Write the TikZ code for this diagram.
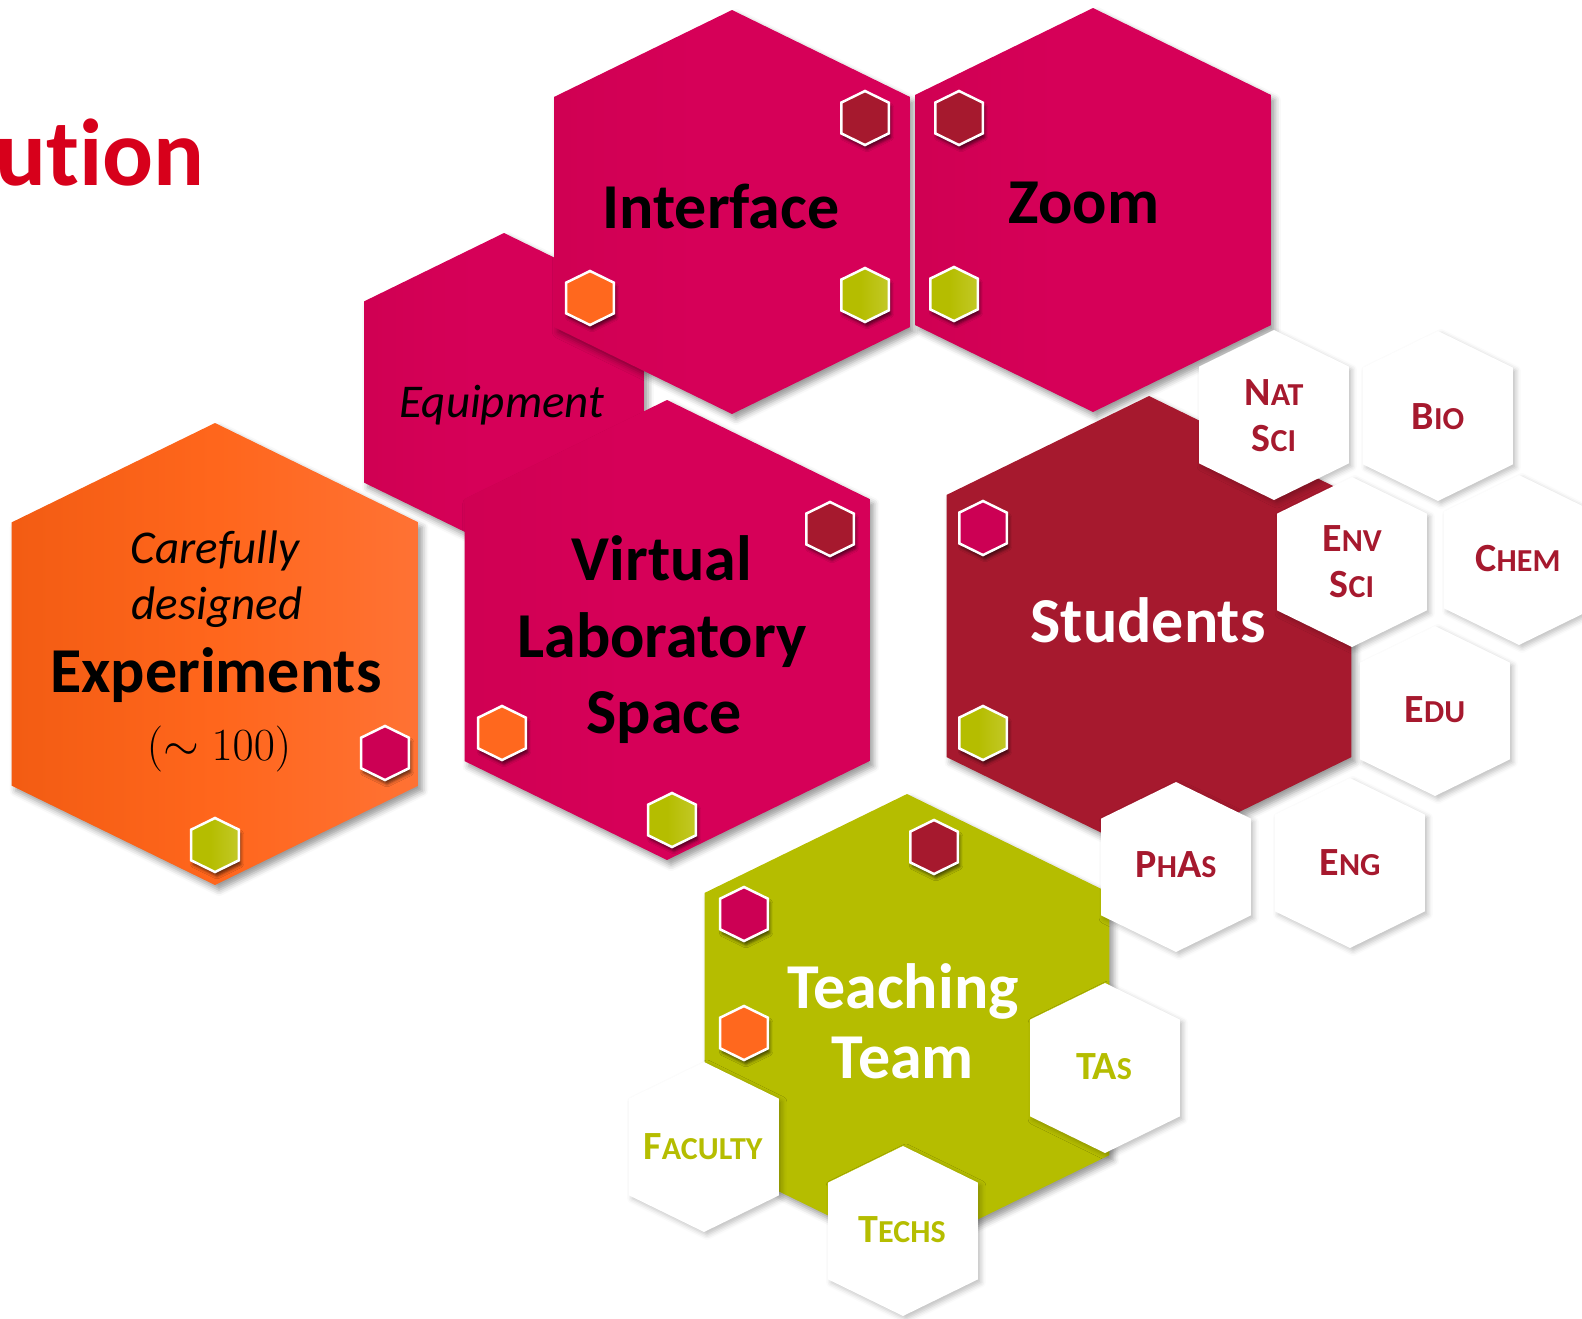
\RequirePackage{fix-cm}
\documentclass[tikz,border=0pt]{standalone}
\usepackage{fontspec}
\setmainfont{Carlito}[Ligatures=NoCommon]
\usetikzlibrary{shadows.blur}

\definecolor{magdark}{RGB}{200,0,76}
\definecolor{magmid}{RGB}{214,0,88}
\definecolor{maglight}{RGB}{217,66,112}
\definecolor{orgdark}{RGB}{230,82,10}
\definecolor{orgmid}{RGB}{255,102,28}
\definecolor{orglight}{RGB}{255,126,76}
\definecolor{studred}{RGB}{166,25,46}
\definecolor{olive}{RGB}{181,189,0}
\definecolor{olivelight}{RGB}{206,210,72}
\definecolor{titlered}{RGB}{215,0,27}
\definecolor{badgemag}{RGB}{204,0,84}
\definecolor{badgeorg}{RGB}{255,104,30}

\pgfdeclarehorizontalshading{magshade}{100bp}{color(0bp)=(magdark); color(45bp)=(magmid); color(75bp)=(magmid); color(100bp)=(maglight)}
\pgfdeclarehorizontalshading{orgshade}{100bp}{color(0bp)=(orgdark); color(50bp)=(orgmid); color(100bp)=(orglight)}
\pgfdeclarehorizontalshading{oliveshade}{100bp}{color(0bp)=(olive); color(45bp)=(olive); color(100bp)=(olivelight)}

% hexagon standing on its point: centre x, centre y, half height
\newcommand{\hexa}[3]{({#1},{#2-#3}) -- ({#1+0.88*#3},{#2-0.57*#3}) -- ({#1+0.88*#3},{#2+0.57*#3}) -- ({#1},{#2+#3}) -- ({#1-0.88*#3},{#2+0.57*#3}) -- ({#1-0.88*#3},{#2-0.57*#3}) -- cycle}
\newcommand{\lowcaps}[1]{{\fontsize{32}{32}\selectfont #1}}

\tikzset{
  bighex/.style={blur shadow={shadow xshift=4pt, shadow yshift=-5pt, shadow blur radius=6pt, shadow opacity=40}},
  tilehex/.style={fill=white, blur shadow={shadow xshift=3pt, shadow yshift=-3pt, shadow blur radius=5pt, shadow opacity=25}},
  badge/.style={draw=white, line width=2.5pt, blur shadow={shadow xshift=2pt, shadow yshift=-4pt, shadow blur radius=3pt, shadow opacity=60}},
  bigtext/.style={font=\fontsize{64}{64}\selectfont\bfseries, anchor=base},
  softtext/.style={font=\fontsize{47}{47}\selectfont\itshape, anchor=base},
  tiletext/.style={font=\fontsize{40}{40}\selectfont\bfseries, anchor=base},
}

\begin{document}
\begin{tikzpicture}[x=1pt, y=-1pt]
  \useasboundingbox (0,0) rectangle (1582,1318);
  \clip (0,0) rectangle (1582,1318);

  \node[font=\fontsize{95}{95}\selectfont\bfseries, text=titlered, anchor=base east] (title) at (208,185) {ution};

  % pink hexagons
  \shade[bighex, shading=magshade] \hexa{504}{392}{159};
  \shade[bighex, shading=magshade] \hexa{732}{212}{202};
  \shade[bighex, shading=magshade] \hexa{1093}{210}{202};
  \shade[bighex, shading=magshade] \hexa{667}{630}{230};

  % experiments
  \shade[bighex, shading=orgshade] \hexa{215}{654}{231};

  % students and teaching team
  \fill[bighex, studred] \hexa{1149}{626}{230};
  \fill[bighex, olive] \hexa{907}{1024}{230};

  % departments
  \path[tilehex] \hexa{1274}{415}{85};
  \path[tilehex] \hexa{1438}{416}{85};
  \path[tilehex] \hexa{1352}{562}{85};
  \path[tilehex] \hexa{1519}{560}{85};
  \path[tilehex] \hexa{1435}{711}{85};
  \path[tilehex] \hexa{1176}{867}{85};
  \path[tilehex] \hexa{1350}{863}{85};

  % staff
  \path[tilehex] \hexa{1105}{1068}{85};
  \path[tilehex] \hexa{704}{1147}{85};
  \path[tilehex] \hexa{903}{1231}{85};

  % small badges
  \foreach \bx/\by/\bc in {865/118/studred, 959/118/studred, 590/298/badgeorg,
      830/529/studred, 502/733/badgeorg, 385/753/badgemag, 983/528/badgemag,
      934/847/studred, 744/914/badgemag, 744/1033/badgeorg}
    \filldraw[badge, fill=\bc] \hexa{\bx}{\by}{27};
  \foreach \bx/\by in {865/295, 954/294, 672/820, 215/845, 983/733}
    \shadedraw[badge, shading=oliveshade] \hexa{\bx}{\by}{27};

  % labels
  \node[bigtext] (interface) at (721,228) {Interface};
  \node[bigtext] (zoom) at (1084,223) {Zoom};
  \node[softtext] (equipment) at (502,417) {Equipment};
  \node[bigtext] (virtual) at (662,580) {Virtual};
  \node[bigtext] (laboratory) at (662,657) {Laboratory};
  \node[bigtext] (space) at (664,733) {Space};
  \node[softtext] (carefully) at (215,563) {Carefully};
  \node[softtext] (designed) at (217,619) {designed};
  \node[bigtext] (experiments) at (216,692) {Experiments};
  \node[font=\fontsize{46}{46}\selectfont, anchor=base] (count) at (219,760) {$(\sim 100)$};
  \node[bigtext, text=white] (students) at (1148,642) {Students};
  \node[bigtext, text=white] (teaching) at (903,1008) {Teaching};
  \node[bigtext, text=white] (team) at (903,1078) {Team};

  \node[tiletext, text=studred] (natA) at (1274,405) {N\lowcaps{AT}};
  \node[tiletext, text=studred] (natB) at (1274,451) {S\lowcaps{CI}};
  \node[tiletext, text=studred] (bio) at (1438,429) {B\lowcaps{IO}};
  \node[tiletext, text=studred] (envA) at (1352,551) {E\lowcaps{NV}};
  \node[tiletext, text=studred] (envB) at (1352,597) {S\lowcaps{CI}};
  \node[tiletext, text=studred] (chem) at (1518,571) {C\lowcaps{HEM}};
  \node[tiletext, text=studred] (edu) at (1435,722) {E\lowcaps{DU}};
  \node[tiletext, text=studred] (phas) at (1176,877) {P\lowcaps{H}A\lowcaps{S}};
  \node[tiletext, text=studred] (eng) at (1350,875) {E\lowcaps{NG}};
  \node[tiletext, text=olive] (tas) at (1104,1079) {TA\lowcaps{S}};
  \node[tiletext, text=olive] (faculty) at (703,1159) {F\lowcaps{ACULTY}};
  \node[tiletext, text=olive] (techs) at (902,1242) {T\lowcaps{ECHS}};
\end{tikzpicture}
\end{document}
